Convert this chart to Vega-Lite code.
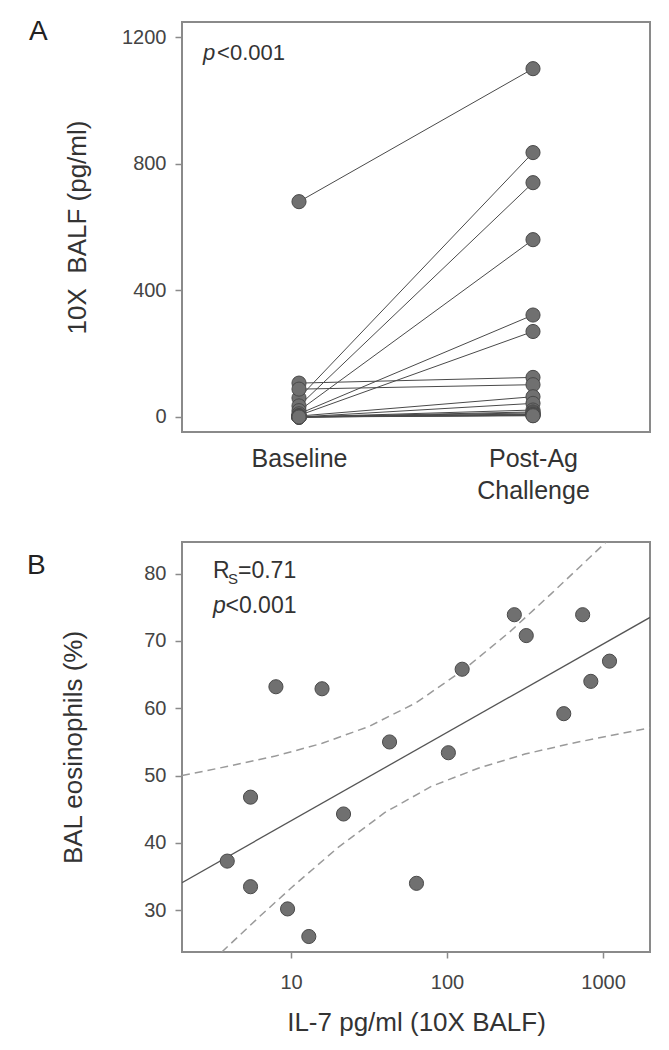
{
  "$schema": "https://vega.github.io/schema/vega-lite/v6.json",
  "padding": {"left": 26, "top": 17, "right": 12, "bottom": 5},
  "spacing": 37,
  "config": {
    "font": "Liberation Sans",
    "view": {"stroke": "#8a8a8a", "strokeWidth": 2},
    "axis": {
      "grid": false, "domain": false,
      "labelFont": "Liberation Sans", "labelFontSize": 20, "labelColor": "#444",
      "titleFont": "Liberation Sans", "titleFontSize": 26, "titleFontWeight": "normal", "titleColor": "#333",
      "tickColor": "#8a8a8a", "tickSize": 7, "tickWidth": 1.5
    }
  },
  "datasets": {
    "pairs": [
      {"id": 1, "t": 0, "value": 680}, {"id": 1, "t": 1, "value": 1100},
      {"id": 2, "t": 0, "value": 60}, {"id": 2, "t": 1, "value": 835},
      {"id": 3, "t": 0, "value": 35}, {"id": 3, "t": 1, "value": 740},
      {"id": 4, "t": 0, "value": 20}, {"id": 4, "t": 1, "value": 560},
      {"id": 5, "t": 0, "value": 10}, {"id": 5, "t": 1, "value": 322},
      {"id": 6, "t": 0, "value": 5}, {"id": 6, "t": 1, "value": 270},
      {"id": 7, "t": 0, "value": 107}, {"id": 7, "t": 1, "value": 125},
      {"id": 8, "t": 0, "value": 88}, {"id": 8, "t": 1, "value": 102},
      {"id": 9, "t": 0, "value": 3}, {"id": 9, "t": 1, "value": 64},
      {"id": 10, "t": 0, "value": 0}, {"id": 10, "t": 1, "value": 43},
      {"id": 11, "t": 0, "value": 0}, {"id": 11, "t": 1, "value": 22},
      {"id": 12, "t": 0, "value": 0}, {"id": 12, "t": 1, "value": 16},
      {"id": 13, "t": 0, "value": 0}, {"id": 13, "t": 1, "value": 13},
      {"id": 14, "t": 0, "value": 0}, {"id": 14, "t": 1, "value": 9.5},
      {"id": 15, "t": 0, "value": 0}, {"id": 15, "t": 1, "value": 8},
      {"id": 16, "t": 0, "value": 0}, {"id": 16, "t": 1, "value": 5.5},
      {"id": 17, "t": 0, "value": 0}, {"id": 17, "t": 1, "value": 5.5},
      {"id": 18, "t": 0, "value": 0}, {"id": 18, "t": 1, "value": 3.9}
    ],
    "eos": [
      {"il7": 1100, "eos": 67.0}, {"il7": 835, "eos": 64.0}, {"il7": 740, "eos": 73.9},
      {"il7": 560, "eos": 59.2}, {"il7": 322, "eos": 70.8}, {"il7": 270, "eos": 73.9},
      {"il7": 125, "eos": 65.8}, {"il7": 102, "eos": 53.4}, {"il7": 63.7, "eos": 34.0},
      {"il7": 42.8, "eos": 55.0}, {"il7": 21.7, "eos": 44.3}, {"il7": 15.8, "eos": 62.9},
      {"il7": 13, "eos": 26.1}, {"il7": 9.5, "eos": 30.2}, {"il7": 8, "eos": 63.2},
      {"il7": 5.5, "eos": 46.8}, {"il7": 5.5, "eos": 33.5}, {"il7": 3.9, "eos": 37.3}
    ],
    "fit": [
      {"il7": 2, "eos": 34.1}, {"il7": 2000, "eos": 73.5}
    ],
    "ci": [
      {"curve": "upper", "il7": 2, "eos": 50.0},
      {"curve": "upper", "il7": 3.98, "eos": 51.4},
      {"curve": "upper", "il7": 7.94, "eos": 52.9},
      {"curve": "upper", "il7": 15.85, "eos": 54.8},
      {"curve": "upper", "il7": 31.6, "eos": 57.3},
      {"curve": "upper", "il7": 63.1, "eos": 60.8},
      {"curve": "upper", "il7": 125.9, "eos": 65.6},
      {"curve": "upper", "il7": 251, "eos": 71.3},
      {"curve": "upper", "il7": 464.5, "eos": 77.0},
      {"curve": "upper", "il7": 1047, "eos": 84.7},
      {"curve": "lower", "il7": 3.6, "eos": 23.8},
      {"curve": "lower", "il7": 6.31, "eos": 29.1},
      {"curve": "lower", "il7": 10, "eos": 33.3},
      {"curve": "lower", "il7": 19.95, "eos": 39.3},
      {"curve": "lower", "il7": 39.8, "eos": 44.5},
      {"curve": "lower", "il7": 79.4, "eos": 48.4},
      {"curve": "lower", "il7": 158.5, "eos": 51.1},
      {"curve": "lower", "il7": 316, "eos": 53.2},
      {"curve": "lower", "il7": 631, "eos": 54.8},
      {"curve": "lower", "il7": 2000, "eos": 57.1}
    ]
  },
  "vconcat": [
    {
      "width": 468,
      "height": 410,
      "layer": [
        {
          "data": {"name": "pairs"},
          "mark": {"type": "line", "color": "#4a4a4a", "strokeWidth": 1},
          "encoding": {
            "x": {
              "field": "t", "type": "quantitative",
              "scale": {"domain": [-0.5, 1.5], "nice": false, "zero": false},
              "axis": {
                "values": [0, 1], "title": null, "ticks": false, "tickSize": 0,
                "labelPadding": 14, "labelFontSize": 25, "labelColor": "#333",
                "labelLineHeight": 32, "labelFlush": false, "labelOverlap": false,
                "labelExpr": "datum.value == 0 ? 'Baseline' : ['Post-Ag', 'Challenge']"
              }
            },
            "y": {
              "field": "value", "type": "quantitative",
              "scale": {"domain": [-47.4, 1247.4], "nice": false, "zero": false},
              "axis": {"values": [0, 400, 800, 1200], "format": "d", "title": "10X\u00a0 BALF (pg/ml)", "titlePadding": 31, "labelPadding": 9}
            },
            "detail": {"field": "id"}
          }
        },
        {
          "data": {"name": "pairs"},
          "mark": {"type": "point", "filled": true, "size": 200, "fill": "#707070", "stroke": "#4a4a4a", "strokeWidth": 1, "opacity": 1},
          "encoding": {
            "x": {"field": "t", "type": "quantitative"},
            "y": {"field": "value", "type": "quantitative"}
          }
        },
        {
          "data": {"values": [{}]},
          "mark": {"type": "text", "text": "p", "fontStyle": "italic", "fontSize": 22, "align": "left", "baseline": "alphabetic", "color": "#333"},
          "encoding": {"x": {"datum": -0.41}, "y": {"datum": 1127}}
        },
        {
          "data": {"values": [{}]},
          "mark": {"type": "text", "text": "<0.001", "fontSize": 22, "align": "left", "baseline": "alphabetic", "color": "#333"},
          "encoding": {"x": {"datum": -0.35}, "y": {"datum": 1127}}
        },
        {
          "data": {"values": [{}]},
          "mark": {"type": "text", "text": "A", "fontSize": 28, "align": "left", "baseline": "alphabetic", "color": "#222"},
          "encoding": {"x": {"datum": -1.154}, "y": {"datum": 1190.5}}
        }
      ]
    },
    {
      "width": 468,
      "height": 410,
      "layer": [
        {
          "data": {"name": "ci"},
          "mark": {"type": "line", "color": "#9a9a9a", "strokeWidth": 1.5, "strokeDash": [8, 5], "clip": true},
          "encoding": {
            "x": {
              "field": "il7", "type": "quantitative",
              "scale": {"type": "log", "domain": [2, 2000], "nice": false},
              "axis": {"values": [10, 100, 1000], "format": "d", "title": "IL-7 pg/ml (10X BALF)", "tickSize": 6, "labelPadding": 14, "titlePadding": 17}
            },
            "y": {
              "field": "eos", "type": "quantitative",
              "scale": {"domain": [23.8, 84.7], "nice": false, "zero": false},
              "axis": {"values": [30, 40, 50, 60, 70, 80], "title": "BAL eosinophils (%)", "titlePadding": 57, "labelPadding": 9}
            },
            "detail": {"field": "curve"}
          }
        },
        {
          "data": {"name": "fit"},
          "mark": {"type": "line", "color": "#555", "strokeWidth": 1.3, "clip": true},
          "encoding": {
            "x": {"field": "il7", "type": "quantitative"},
            "y": {"field": "eos", "type": "quantitative"}
          }
        },
        {
          "data": {"name": "eos"},
          "mark": {"type": "point", "filled": true, "size": 200, "fill": "#707070", "stroke": "#4a4a4a", "strokeWidth": 1, "opacity": 1},
          "encoding": {
            "x": {"field": "il7", "type": "quantitative"},
            "y": {"field": "eos", "type": "quantitative"}
          }
        },
        {
          "data": {"values": [{}]},
          "mark": {"type": "text", "text": "R", "fontSize": 23, "align": "left", "baseline": "alphabetic", "color": "#333"},
          "encoding": {"x": {"datum": 3.16}, "y": {"datum": 79.4}}
        },
        {
          "data": {"values": [{}]},
          "mark": {"type": "text", "text": "S", "fontSize": 15, "align": "left", "baseline": "alphabetic", "color": "#333"},
          "encoding": {"x": {"datum": 3.95}, "y": {"datum": 78.5}}
        },
        {
          "data": {"values": [{}]},
          "mark": {"type": "text", "text": "=0.71", "fontSize": 23, "align": "left", "baseline": "alphabetic", "color": "#333"},
          "encoding": {"x": {"datum": 4.57}, "y": {"datum": 79.4}}
        },
        {
          "data": {"values": [{}]},
          "mark": {"type": "text", "text": "p", "fontStyle": "italic", "fontSize": 23, "align": "left", "baseline": "alphabetic", "color": "#333"},
          "encoding": {"x": {"datum": 3.16}, "y": {"datum": 74.2}}
        },
        {
          "data": {"values": [{}]},
          "mark": {"type": "text", "text": "<0.001", "fontSize": 23, "align": "left", "baseline": "alphabetic", "color": "#333"},
          "encoding": {"x": {"datum": 3.8}, "y": {"datum": 74.2}}
        },
        {
          "data": {"values": [{}]},
          "mark": {"type": "text", "text": "B", "fontSize": 28, "align": "left", "baseline": "alphabetic", "color": "#222"},
          "encoding": {"x": {"datum": 0.203}, "y": {"datum": 80}}
        }
      ]
    }
  ]
}
